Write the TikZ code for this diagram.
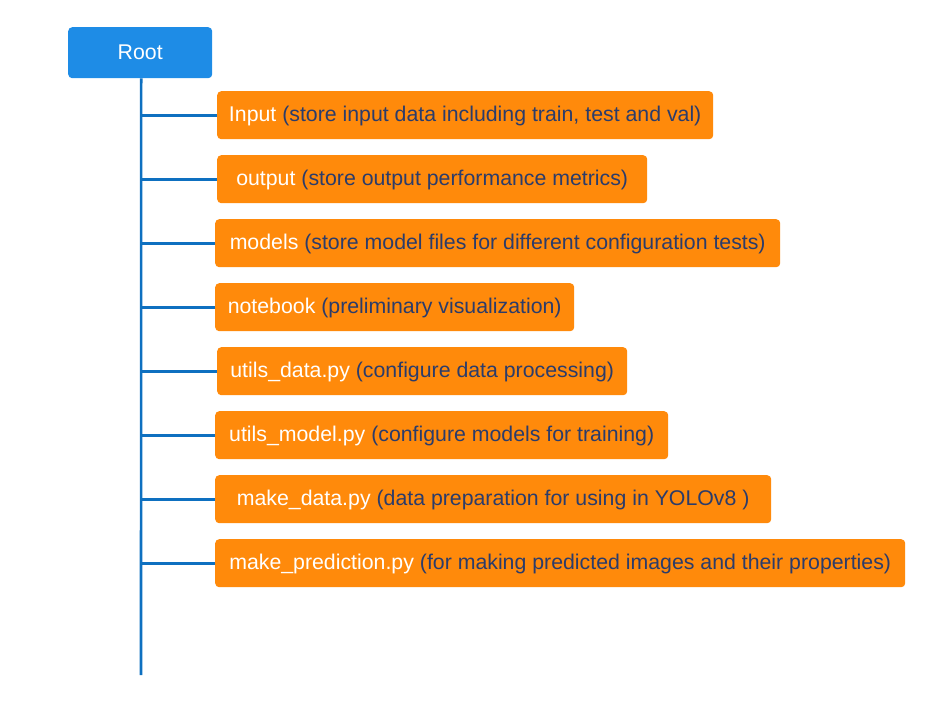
\documentclass[tikz,border=0pt]{standalone}
\usepackage{fontspec}
\setmainfont{Liberation Sans}
\usepackage{tikz}
\usetikzlibrary{calc}

\definecolor{rootblue}{HTML}{1E8CE6}
\definecolor{treeblue}{HTML}{0E70C0}
\definecolor{leaforange}{HTML}{FF8A0B}
\definecolor{notetext}{HTML}{2B3C6B}

\begin{document}
\begin{tikzpicture}[x=1pt,y=-1pt,
        rootbox/.style={fill=rootblue, rounded corners=4pt, text=white, minimum width=144pt, minimum height=51pt, inner sep=0pt, text height=18pt, text depth=5pt, font=\fontsize{21.3}{25}\selectfont},
        leaf/.style={fill=leaforange, rounded corners=4pt, text=notetext, minimum height=48pt, inner sep=0pt, text height=18pt, text depth=5pt, anchor=north west, font=\fontsize{21.3}{25}\selectfont},
        branch/.style={treeblue, line width=2.6pt}]
        \useasboundingbox (0,0) rectangle (948,704);

        \node[rootbox, anchor=north west] (root) at (68,27) {Root};
        \coordinate (trunkend) at (141,675);

        \node[leaf, minimum width=496pt] (input) at (217,91) {\textcolor{white}{Input} (store input data including train, test and val)};
        \node[leaf, minimum width=430pt] (output) at (217,155) {\textcolor{white}{output} (store output performance metrics)};
        \node[leaf, minimum width=565pt] (models) at (215,219) {\textcolor{white}{models} (store model files for different configuration tests)};
        \node[leaf, minimum width=359pt] (notebook) at (215,283) {\textcolor{white}{notebook} (preliminary visualization)};
        \node[leaf, minimum width=410pt] (utilsdata) at (217,347) {\textcolor{white}{utils\_data.py} (configure data processing)};
        \node[leaf, minimum width=453pt] (utilsmodel) at (215,411) {\textcolor{white}{utils\_model.py} (configure models for training)};
        \node[leaf, minimum width=556pt] (makedata) at (215,475) {\textcolor{white}{make\_data.py} (data preparation for using in YOLOv8 )};
        \node[leaf, minimum width=690pt] (makepred) at (215,539) {\textcolor{white}{make\_prediction.py} (for making predicted images and their properties)};

        \draw[branch] (input.west) -- (input.west -| trunkend);
        \draw[branch] (output.west) -- (output.west -| trunkend);
        \draw[branch] (models.west) -- (models.west -| trunkend);
        \draw[branch] (notebook.west) -- (notebook.west -| trunkend);
        \draw[branch] (utilsdata.west) -- (utilsdata.west -| trunkend);
        \draw[branch] (utilsmodel.west) -- (utilsmodel.west -| trunkend);
        \draw[branch] (makedata.west) -- (makedata.west -| trunkend);
        \draw[branch] (makepred.west) -- (makepred.west -| trunkend);
        \draw[branch] ($(root.south)+(1,0)$) -- (trunkend);
\end{tikzpicture}
\end{document}
